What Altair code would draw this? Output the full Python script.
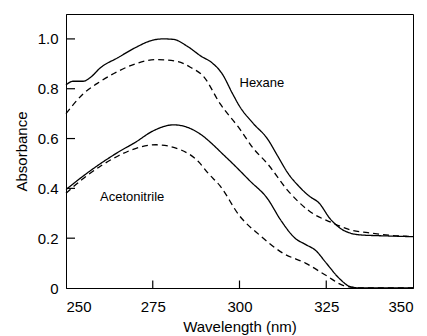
import altair as alt
import pandas as pd

# Hexane, solid
hex_s_wl = [250, 252, 255, 257, 260, 265, 270, 275, 278, 281, 285, 289, 292, 295, 298, 300, 304, 308, 311, 314, 317, 320, 323, 326, 329, 332, 335, 340, 345, 350]
hex_s_a = [0.815, 0.83, 0.83, 0.845, 0.885, 0.925, 0.965, 0.995, 1.0, 0.998, 0.97, 0.93, 0.905, 0.86, 0.78, 0.73, 0.66, 0.60, 0.53, 0.46, 0.41, 0.37, 0.34, 0.28, 0.24, 0.22, 0.213, 0.21, 0.208, 0.206]
# Hexane, dashed
hex_d_wl = [250, 255, 260, 265, 270, 276, 282, 286, 289.6, 294.4, 300, 304, 308, 314, 320, 327, 332, 337, 343, 350]
hex_d_a = [0.70, 0.78, 0.83, 0.87, 0.90, 0.917, 0.91, 0.885, 0.85, 0.74, 0.64, 0.56, 0.50, 0.39, 0.31, 0.26, 0.233, 0.222, 0.212, 0.207]
# Acetonitrile, solid
acn_s_wl = [250, 255, 260, 265, 270, 275, 281, 285, 289, 292, 295, 298, 303, 308, 312, 316, 319, 322, 325, 329, 332, 335, 350]
acn_s_a = [0.395, 0.45, 0.50, 0.545, 0.585, 0.63, 0.655, 0.645, 0.615, 0.58, 0.54, 0.50, 0.43, 0.36, 0.27, 0.20, 0.175, 0.15, 0.10, 0.035, 0.005, 0.0, 0.0]
# Acetonitrile, dashed
acn_d_wl = [250, 255, 260, 265, 270, 276, 283, 288, 291, 294.4, 300, 306, 312.5, 319, 325, 330, 335, 350]
acn_d_a = [0.38, 0.44, 0.49, 0.53, 0.56, 0.575, 0.555, 0.51, 0.46, 0.41, 0.29, 0.21, 0.14, 0.10, 0.05, 0.01, 0.0, 0.0]

x_ticks = [250, 275, 300, 325, 350]
y_ticks = [0, 0.2, 0.4, 0.6, 0.8, 1.0]
x_inner_ticks = [275, 300, 325]
y_inner_ticks = [0.2, 0.4, 0.6, 0.8, 1.0]

labels = ["Hexane", "Acetonitrile"]
label_x = [300, 259.8]
label_y = [0.824, 0.366]

W, H = 347, 274
FONT = "Liberation Sans"

rows = []
for name, wl, a, dash in [("hex_s", hex_s_wl, hex_s_a, "solid"), ("hex_d", hex_d_wl, hex_d_a, "dashed"),
                          ("acn_s", acn_s_wl, acn_s_a, "solid"), ("acn_d", acn_d_wl, acn_d_a, "dashed")]:
    for w, v in zip(wl, a):
        rows.append({"series": name, "wl": w, "A": v, "style": dash})
df = pd.DataFrame(rows)

xs = alt.Scale(domain=[250, 350], nice=False, zero=False)
ys = alt.Scale(domain=[0, 1.1], nice=False, zero=False)

lines = alt.Chart(df).mark_line(color="black", strokeWidth=1.3, interpolate="monotone").encode(
    x=alt.X("wl:Q", scale=xs, axis=alt.Axis(values=x_ticks, title="Wavelength (nm)", ticks=False,
                                          labelPadding=11, titlePadding=5, grid=False)),
    y=alt.Y("A:Q", scale=ys, axis=alt.Axis(values=y_ticks, title="Absorbance", ticks=False,
                                         labelPadding=8, titlePadding=8, grid=False,
                                         labelExpr="datum.value == 0 ? '0' : format(datum.value, '.1f')")),
    detail="series:N",
    strokeDash=alt.StrokeDash("style:N", scale=alt.Scale(domain=["solid", "dashed"], range=[[1, 0], [6, 4]]), legend=None),
)

ytick_df = pd.DataFrame({"v": y_inner_ticks, "x0": [250] * 5, "x1": [252.6] * 5})
xtick_df = pd.DataFrame({"v": x_inner_ticks, "y0": [0] * 3, "y1": [0.03] * 3})
yt = alt.Chart(ytick_df).mark_rule(color="black", strokeWidth=1.2).encode(
    y=alt.Y("v:Q", scale=ys), x=alt.X("x0:Q", scale=xs), x2="x1:Q")
xt = alt.Chart(xtick_df).mark_rule(color="black", strokeWidth=1.2).encode(
    x=alt.X("v:Q", scale=xs), y=alt.Y("y0:Q", scale=ys), y2="y1:Q")

lab_df = pd.DataFrame({"t": labels, "x": label_x, "y": label_y})
txt = alt.Chart(lab_df).mark_text(align="left", baseline="middle", font=FONT, fontSize=13, color="black").encode(
    x=alt.X("x:Q", scale=xs), y=alt.Y("y:Q", scale=ys), text="t:N")

chart = alt.layer(lines, yt, xt, txt).properties(
    width=W, height=H,
    autosize=alt.AutoSizeParams(type="none"),
    padding={"left": 58, "top": 6, "right": 6, "bottom": 48},
).configure_view(stroke="black", strokeWidth=1).configure_axis(
    domainColor="black", domainWidth=1, labelFont=FONT, titleFont=FONT, labelFontSize=15,
    titleFontSize=15, titleFontWeight="normal", labelColor="black", titleColor="black"
)

chart.save("out.html", embed_options={"renderer": "svg", "actions": False})
